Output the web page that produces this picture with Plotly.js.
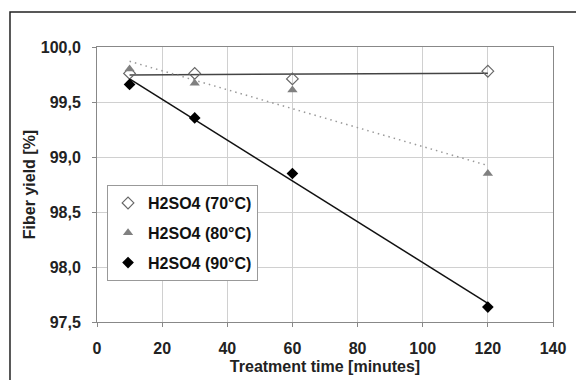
<!DOCTYPE html>
<html>
<head>
<meta charset="utf-8">
<script src="https://cdn.plot.ly/plotly-3.0.1.min.js"></script>
<style>html,body{margin:0;padding:0;background:#fff;}#chart{width:576px;height:380px;}</style>
</head>
<body>
<div id="chart"></div>
<script>
// Data
const times = [10, 30, 60, 120];
const yield70 = [99.76, 99.76, 99.71, 99.78];
const yield80 = [99.80, 99.67, 99.61, 98.85];
const yield90 = [99.66, 99.355, 98.85, 97.636];
const seriesNames = ['H2SO4 (70°C)', 'H2SO4 (80°C)', 'H2SO4 (90°C)'];
const xTicks = [0, 20, 40, 60, 80, 100, 120, 140];
const xTickLabels = ['0', '20', '40', '60', '80', '100', '120', '140'];
const yTicks = [97.5, 98.0, 98.5, 99.0, 99.5, 100.0];
const yTickLabels = ['97,5', '98,0', '98,5', '99,0', '99,5', '100,0'];

// Linear trendline (least squares) over the measured range
function trend(xs, ys) {
  const n = xs.length;
  const mx = xs.reduce((a, b) => a + b, 0) / n;
  const my = ys.reduce((a, b) => a + b, 0) / n;
  let sxy = 0, sxx = 0;
  for (let i = 0; i < n; i++) { sxy += (xs[i] - mx) * (ys[i] - my); sxx += (xs[i] - mx) ** 2; }
  const b = sxy / sxx, a = my - b * mx;
  const ends = [xs[0], xs[n - 1]];
  return { x: ends, y: ends.map(v => a + b * v) };
}

const t70 = trend(times, yield70), t80 = trend(times, yield80), t90 = trend(times, yield90);
const B = s => '<b>' + s + '</b>';

const traces = [
  { x: t70.x, y: t70.y, mode: 'lines', line: { color: '#444', width: 1.5 }, showlegend: false, hoverinfo: 'skip' },
  { x: t80.x, y: t80.y, mode: 'lines', line: { color: '#999', width: 1.5, dash: '1.5px,4px' }, showlegend: false, hoverinfo: 'skip' },
  { x: t90.x, y: t90.y, mode: 'lines', line: { color: '#111', width: 1.5 }, showlegend: false, hoverinfo: 'skip' },
  { x: times, y: yield70, mode: 'markers', name: B(seriesNames[0]), legendgroup: 'a',
    marker: { symbol: 'diamond-open', size: 9, color: '#666', line: { color: '#666', width: 1.2 } } },
  { x: times, y: yield80, mode: 'markers', name: B(seriesNames[1]), legendgroup: 'b',
    marker: { symbol: 'triangle-up', size: 9, color: '#808080' } },
  { x: times, y: yield90, mode: 'markers', name: B(seriesNames[2]), legendgroup: 'c',
    marker: { symbol: 'diamond', size: 9, color: '#000' } }
];

const FAM = 'Liberation Sans, Arial, sans-serif';

const layout = {
  width: 576, height: 380,
  margin: { l: 97, r: 23, t: 47, b: 58 },
  paper_bgcolor: '#fff', plot_bgcolor: '#fff',
  font: { family: FAM, size: 16, color: '#222' },
  showlegend: true,
  legend: {
    x: 0.022, y: 0.498, xanchor: 'left', yanchor: 'top',
    bordercolor: '#999', borderwidth: 1, bgcolor: '#fff',
    font: { family: FAM, size: 16, color: '#111' },
    tracegroupgap: 6, itemwidth: 30
  },
  xaxis: {
    range: [0, 140], tickvals: xTicks, ticktext: xTickLabels.map(B),
    showgrid: true, gridcolor: '#d0d0d0', gridwidth: 1,
    showline: true, linecolor: '#888', linewidth: 1, mirror: true,
    ticks: 'outside', ticklen: 4, tickcolor: '#888', ticklabelstandoff: 8,
    zeroline: false,
    tickfont: { family: FAM, size: 16, color: '#222' },
    title: { text: B('Treatment time [minutes]'), standoff: 4,
      font: { family: FAM, size: 16, color: '#222' } }
  },
  yaxis: {
    range: [97.5, 100.0], tickvals: yTicks, ticktext: yTickLabels.map(B),
    showgrid: true, gridcolor: '#d0d0d0', gridwidth: 1,
    showline: true, linecolor: '#888', linewidth: 1, mirror: true,
    ticks: 'outside', ticklen: 4, tickcolor: '#888', ticklabelstandoff: 8,
    zeroline: false,
    tickfont: { family: FAM, size: 16, color: '#222' },
    title: { text: B('Fiber yield [%]'), standoff: 1,
      font: { family: FAM, size: 16, color: '#222' } }
  },
  shapes: [
    { type: 'path', xref: 'paper', yref: 'paper',
      path: 'M -0.1908 -0.3 L -0.1908 1.127 L 1.2 1.127',
      line: { color: '#222', width: 1.5 } }
  ]
};

Plotly.newPlot('chart', traces, layout, { staticPlot: true, displayModeBar: false });
</script>
</body>
</html>
